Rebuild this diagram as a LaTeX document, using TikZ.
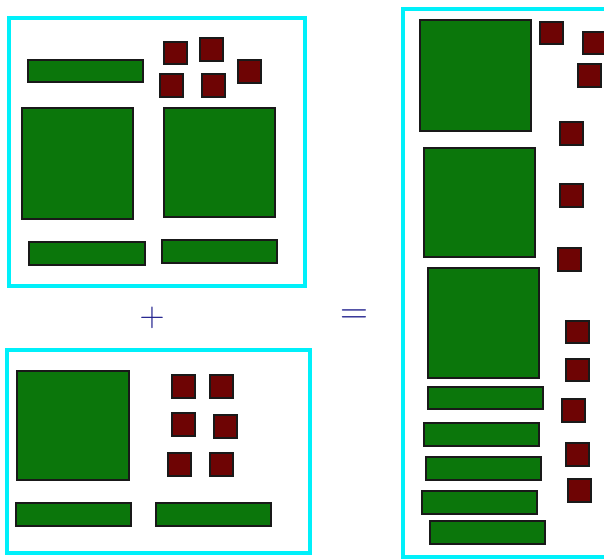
\documentclass[tikz,border=0pt]{standalone}
\usepackage{tikz}
\definecolor{boxgreen}{RGB}{11,118,11}
\definecolor{boxred}{RGB}{110,4,4}
\definecolor{framecyan}{RGB}{0,240,250}
\definecolor{opblue}{RGB}{30,30,140}
\newcommand\gbox[4]{\draw[gboxst] (#1,#2) rectangle (#3,#4);}
\newcommand\rbox[4]{\draw[rboxst] (#1,#2) rectangle (#3,#4);}
\begin{document}
\begin{tikzpicture}[x=0.75pt,y=-0.75pt,
  gboxst/.style={fill=boxgreen,draw=black!90,line width=1.2pt},
  rboxst/.style={fill=boxred,draw=black!90,line width=1.2pt},
  framest/.style={draw=framecyan,line width=2.3pt},
  opst/.style={text=opblue,inner sep=0pt}]
\useasboundingbox (0,0) rectangle (604,559);
\clip (0,0) rectangle (604,559);
% top-left frame
\draw[framest] (9,18) rectangle (305,286);
\gbox{28}{60}{143}{82}
\rbox{164}{42}{187}{64}
\rbox{200}{38}{223}{61}
\rbox{238}{60}{261}{83}
\rbox{160}{74}{183}{97}
\rbox{202}{74}{225}{97}
\gbox{22}{108}{133}{219}
\gbox{164}{108}{275}{217}
\gbox{29}{242}{145}{265}
\gbox{162}{240}{277}{263}
% bottom-left frame
\draw[framest] (7,350) rectangle (310,553);
\gbox{17}{371}{129}{480}
\rbox{172}{375}{195}{398}
\rbox{210}{375}{233}{398}
\rbox{172}{413}{195}{436}
\rbox{214}{415}{237}{438}
\rbox{168}{453}{191}{476}
\rbox{210}{453}{233}{476}
\gbox{16}{503}{131}{526}
\gbox{156}{503}{271}{526}
% operators
\node[opst,font=\fontsize{26}{26}\selectfont] (plus) at (152,318) {+};
\node[opst,font=\fontsize{29}{29}\selectfont] (eq) at (354,317) {=};
% right frame
\draw[framest] (403,9) rectangle (614,557);
\gbox{420}{20}{531}{131}
\gbox{424}{148}{535}{257}
\gbox{428}{268}{539}{378}
\rbox{540}{22}{563}{44}
\rbox{583}{32}{606}{54}
\rbox{578}{64}{601}{87}
\rbox{560}{122}{583}{145}
\rbox{560}{184}{583}{207}
\rbox{558}{248}{581}{271}
\rbox{566}{321}{589}{343}
\rbox{566}{359}{589}{381}
\rbox{562}{399}{585}{422}
\rbox{566}{443}{589}{466}
\rbox{568}{479}{591}{502}
\gbox{428}{387}{543}{409}
\gbox{424}{423}{539}{446}
\gbox{426}{457}{541}{480}
\gbox{422}{491}{537}{514}
\gbox{430}{521}{545}{544}
\end{tikzpicture}
\end{document}
